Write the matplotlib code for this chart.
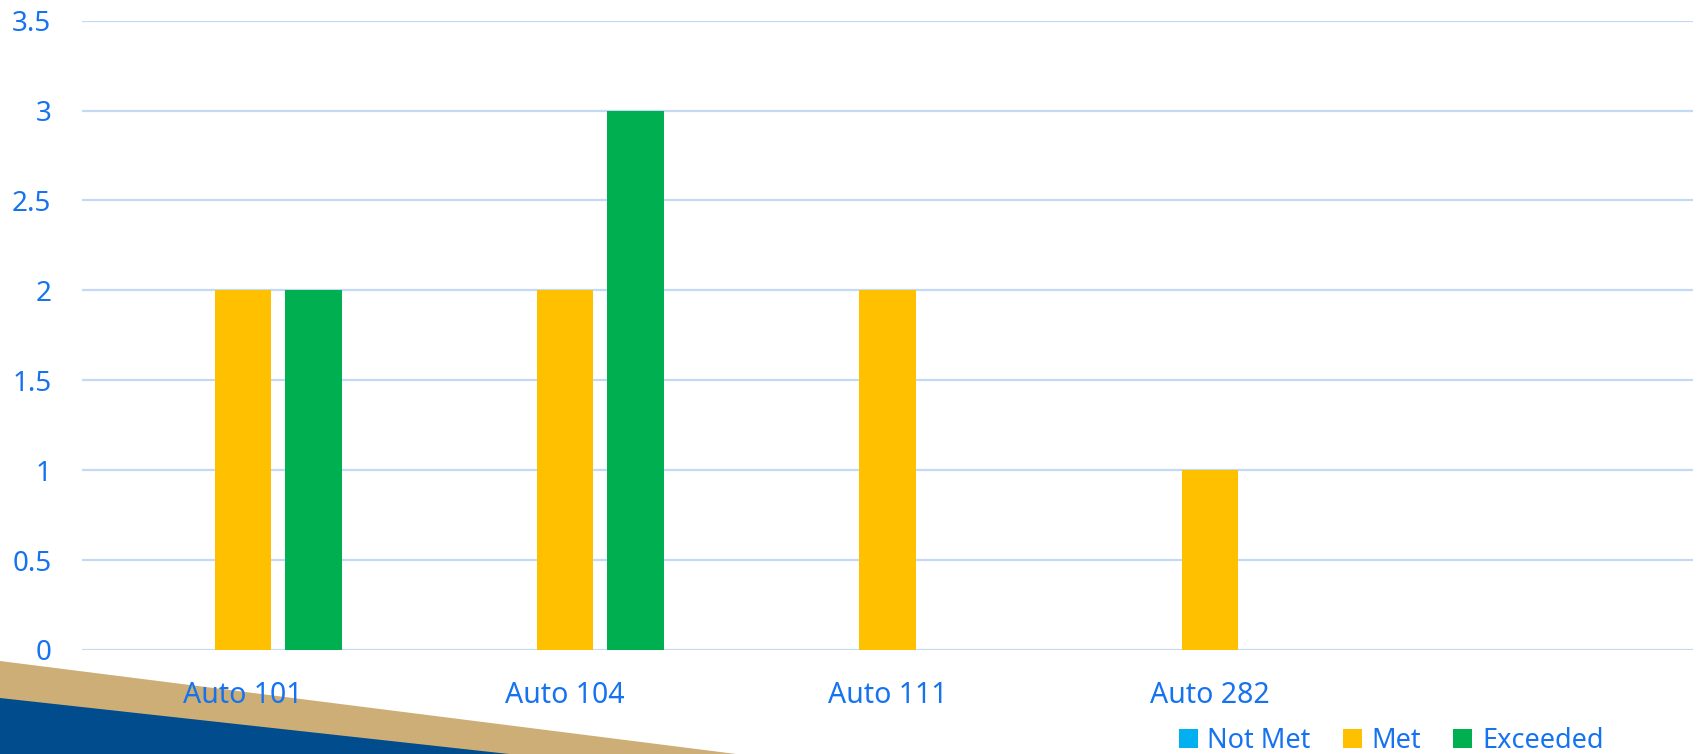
"""Grouped bar chart: outcome counts per course"""
import matplotlib.pyplot as plt
import numpy as np
from matplotlib.patches import Patch, Polygon

categories = ['Auto 101', 'Auto 104', 'Auto 111', 'Auto 282', '']
not_met = [0, 0, 0, 0, 0]
met = [2, 2, 2, 1, 0]
exceeded = [2, 3, 0, 0, 0]

series_names = ['Not Met', 'Met', 'Exceeded']
series_colors = ['#00B0F0', '#FFC000', '#00B050']
text_color = '#1673F0'
grid_color = '#C3DAF7'

plt.rcParams['font.family'] = ['Noto Sans', 'DejaVu Sans']

fig = plt.figure(figsize=(16.98, 7.54), dpi=100)
ax = fig.add_axes([82 / 1698, 1 - 650 / 754, (1693 - 82) / 1698, (650 - 20.6) / 754])

x = np.arange(len(categories))
width = 0.175
step = 0.218
for i, (vals, color) in enumerate(zip([not_met, met, exceeded], series_colors)):
    ax.bar(x + (i - 1) * step, vals, width, color=color, zorder=3)

ax.set_xlim(-0.5, len(categories) - 0.5)
ax.set_ylim(0, 3.5)
ax.set_yticks(np.arange(0, 3.51, 0.5))
ax.set_yticklabels(['0', '0.5', '1', '1.5', '2', '2.5', '3', '3.5'])
ax.set_xticks(x)
ax.set_xticklabels(categories)
ax.grid(axis='y', color=grid_color, linewidth=1.6, zorder=0)
for s in ax.spines.values():
    s.set_visible(False)
ax.tick_params(axis='y', length=0, colors=text_color, labelsize=20, pad=22)
ax.tick_params(axis='x', length=0, colors=text_color, labelsize=20.5, pad=22)
ax.set_facecolor('none')

# decorative stripes in the bottom-left corner
fig.patches.append(Polygon([(0, 1 - 661 / 754), (736 / 1698, 0), (0, 0)], closed=True,
                           transform=fig.transFigure, facecolor='#CDAE76', edgecolor='none', zorder=-2))
fig.patches.append(Polygon([(0, 1 - 698 / 754), (509 / 1698, 0), (0, 0)], closed=True,
                           transform=fig.transFigure, facecolor='#004C8C', edgecolor='none', zorder=-1))

handles = [Patch(facecolor=c, edgecolor='none') for c in series_colors]
leg = fig.legend(handles, series_names, loc='center', bbox_to_anchor=(1391 / 1698, 1 - 741 / 754),
                 ncol=3, frameon=False, fontsize=19.5, handlelength=0.7, handleheight=0.7,
                 handletextpad=0.35, columnspacing=1.2, labelcolor=text_color, borderpad=0)

fig.savefig('out.png', dpi=100)
